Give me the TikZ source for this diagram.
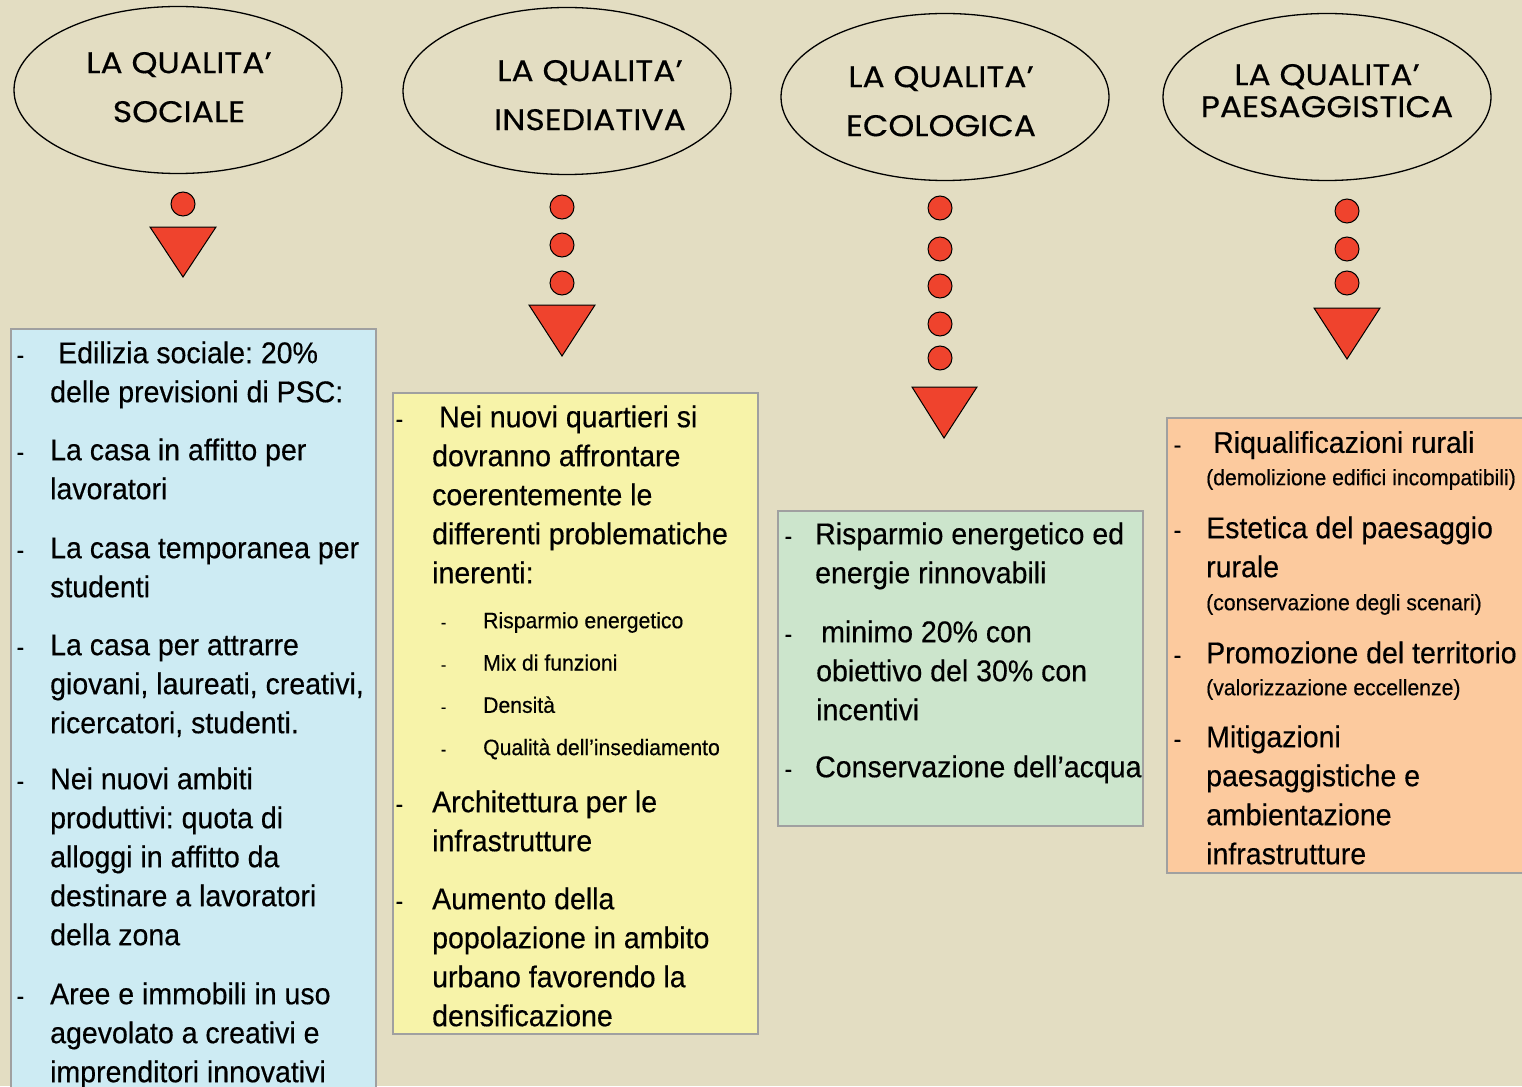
\documentclass[tikz,border=0pt]{standalone}
\usepackage{fontspec}
\setmainfont{Liberation Sans}
\newfontfamily\narrowfont[FakeStretch=0.95,FakeBold=0.4]{Liberation Sans}
\newfontfamily\titlefont[FakeStretch=1.1,FakeBold=0.3]{Poppins}
\usetikzlibrary{shapes.geometric}
\definecolor{bgbeige}{RGB}{227,221,194}
\definecolor{redmark}{RGB}{239,67,45}
\definecolor{panelgray}{RGB}{160,160,160}
\definecolor{socialblue}{RGB}{205,235,243}
\definecolor{insedyellow}{RGB}{247,243,169}
\definecolor{ecogreen}{RGB}{204,229,204}
\definecolor{paesorange}{RGB}{252,202,158}
\tikzstyle{qual} = [ellipse, draw=black, line width=1.3pt, minimum width=328pt, minimum height=167pt]
\tikzstyle{qualtext} = [anchor=north, inner sep=0pt, align=center, font=\titlefont\fontsize{30}{49}\selectfont]
\tikzstyle{dot} = [circle, draw=black, line width=1pt, fill=redmark, minimum size=24pt, inner sep=0pt]
\tikzstyle{tri} = [draw=black, line width=1pt, fill=redmark]
\tikzstyle{panel} = [draw=panelgray, line width=1.3pt]
\tikzstyle{item} = [anchor=north west, inner sep=0pt, align=left, font=\narrowfont\fontsize{30}{39}\selectfont]
\tikzstyle{subitem} = [anchor=north west, inner sep=0pt, align=left, font=\narrowfont\fontsize{22.3}{42.3}\selectfont]
\tikzstyle{note} = [anchor=north west, inner sep=0pt, align=left, font=\narrowfont\fontsize{22.3}{33}\selectfont]
\newcommand{\dsh}[1]{\llap{{\fontsize{24}{24}\selectfont -}\hspace{#1}}}
\newcommand{\subdsh}{\llap{{\fontsize{17}{17}\selectfont -}\hspace{37pt}}}
\frenchspacing
\begin{document}
\begin{tikzpicture}[x=1pt, y=-1pt]
        \useasboundingbox (0,0) rectangle (1522,1086);
        \clip (0,0) rectangle (1522,1086);
        \fill[bgbeige] (0,0) rectangle (1522,1086);
        % the four qualities
        \node(q1) [qual] at (178,90) {};
        \node(q2) [qual] at (567,91) {};
        \node(q3) [qual] at (945,97) {};
        \node(q4) [qual] at (1327,97) {};
        \node(t1) [qualtext] at (179,38.7) {\strut LA QUALITA’\\SOCIALE};
        \node(t2) [qualtext] at (590,46.7) {\strut LA QUALITA’\\INSEDIATIVA};
        \node(t3) [qualtext] at (941,52.7) {\strut LA QUALITA’\\ECOLOGICA};
        \node(t4) [qualtext, font=\titlefont\fontsize{30}{32}\selectfont] at (1327,62.6) {\strut LA QUALITA’\\PAESAGGISTICA};
        % dots and triangles
        \node(d11) [dot] at (183,204) {};
        \draw [tri] (150,227)--(216,227)--(183,277)--cycle;
        \node(d21) [dot] at (562,207) {};
        \node(d22) [dot] at (562,245) {};
        \node(d23) [dot] at (562,283) {};
        \draw [tri] (529,305)--(595,305)--(562,356)--cycle;
        \node(d31) [dot] at (940,208) {};
        \node(d32) [dot] at (940,249) {};
        \node(d33) [dot] at (940,286) {};
        \node(d34) [dot] at (940,324) {};
        \node(d35) [dot] at (940,358) {};
        \draw [tri] (912,387)--(977,387)--(944,438)--cycle;
        \node(d41) [dot] at (1347,211) {};
        \node(d42) [dot] at (1347,249) {};
        \node(d43) [dot] at (1347,283) {};
        \draw [tri] (1314,308)--(1380,308)--(1347,359)--cycle;
        % panels
        \draw [panel, fill=socialblue] (11,329) rectangle (376,1100);
        \draw [panel, fill=insedyellow] (393,393) rectangle (758,1034);
        \draw [panel, fill=ecogreen] (778,511) rectangle (1143,826);
        \draw [panel, fill=paesorange] (1167,418) rectangle (1540,873);
        % sociale
        \node(b1) [item] at (50,335.7) {\dsh{26pt}\strut\hspace*{8pt}Edilizia sociale: 20\%\\delle previsioni di PSC:};
        \node(b2) [item] at (50,432.7) {\dsh{26pt}\strut La casa in affitto per\\lavoratori};
        \node(b3) [item] at (50,530.7) {\dsh{26pt}\strut La casa temporanea per\\studenti};
        \node(b4) [item] at (50,627.7) {\dsh{26pt}\strut La casa per attrarre\\giovani, laureati, creativi,\\ricercatori, studenti.};
        \node(b5) [item] at (50,761.7) {\dsh{26pt}\strut Nei nuovi ambiti\\produttivi: quota di\\alloggi in affitto da\\destinare a lavoratori\\della zona};
        \node(b6) [item] at (50,976.7) {\dsh{26pt}\strut Aree e immobili in uso\\agevolato a creativi e\\imprenditori innovativi};
        % insediativa
        \node(y1) [item] at (432,399.7) {\dsh{29pt}\strut\hspace*{7pt}Nei nuovi quartieri si\\dovranno affrontare\\coerentemente le\\differenti problematiche\\inerenti:};
        \node(ys) [subitem] at (483,598.4) {\subdsh\strut Risparmio energetico\\\subdsh Mix di funzioni\\\subdsh Densità\\\subdsh Qualità dell’insediamento};
        \node(y2) [item] at (432,784.7) {\dsh{29pt}\strut Architettura per le\\infrastrutture};
        \node(y3) [item] at (432,881.7) {\dsh{29pt}\strut Aumento della\\popolazione in ambito\\urbano favorendo la\\densificazione};
        % ecologica
        \node(g1) [item] at (815,516.7) {\dsh{23pt}\strut Risparmio energetico ed\\energie rinnovabili};
        \node(g2) [item] at (816,614.7) {\dsh{24pt}\strut\hspace*{5pt}minimo 20\% con\\obiettivo del 30\% con\\incentivi};
        \node(g3) [item] at (815,749.7) {\dsh{23pt}\strut Conservazione dell’acqua};
        % paesaggistica
        \node(o1) [item] at (1206,425.4) {\dsh{25pt}\strut\hspace*{7pt}Riqualificazioni rurali};
        \node(o1n) [note] at (1206,461.9) {\strut(demolizione edifici incompatibili)};
        \node(o2) [item] at (1206,510.7) {\dsh{25pt}\strut Estetica del paesaggio\\rurale};
        \node(o2n) [note] at (1206,586.9) {\strut(conservazione degli scenari)};
        \node(o3) [item] at (1206,635.7) {\dsh{25pt}\strut Promozione del territorio};
        \node(o3n) [note] at (1206,671.9) {\strut(valorizzazione eccellenze)};
        \node(o4) [item] at (1206,719.7) {\dsh{25pt}\strut Mitigazioni\\paesaggistiche e\\ambientazione\\infrastrutture};
\end{tikzpicture}
\end{document}
